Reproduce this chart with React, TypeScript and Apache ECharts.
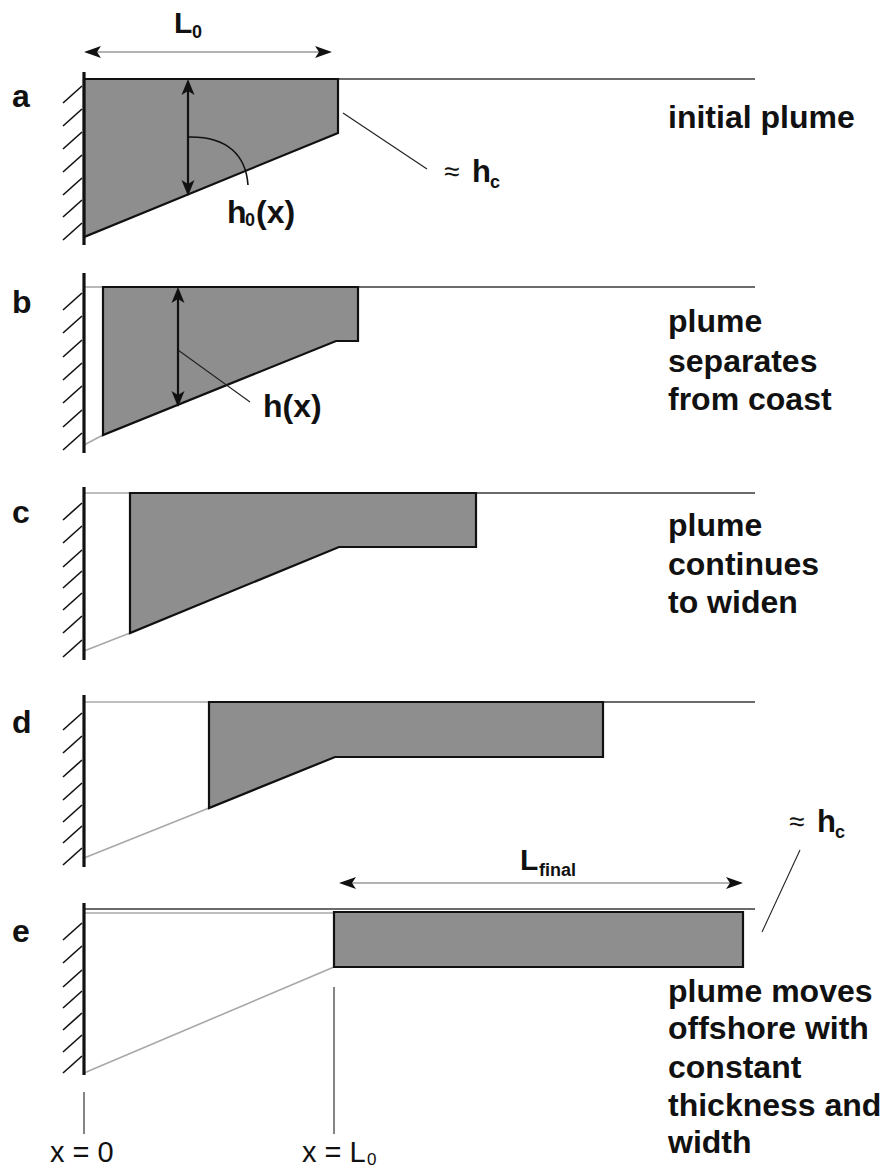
import React, { useEffect, useRef } from 'react';
import * as echarts from 'echarts';

const W = 892;
const H = 1171;
const FONT = '"Liberation Sans", Arial, Helvetica, sans-serif';

// ---- geometry (canvas units: x right, y down) ----
const wallX = 84;
const surfaceEndX = 755;
const panelLabels = ['a', 'b', 'c', 'd', 'e'];
const panelLabelBaseline = [107, 313, 523, 733, 942];
const surfaceY = [79, 287, 493, 702, 909];
const wallTopY = [72, 273, 487, 695, 903];
const wallBottomY = [245, 453, 660, 867, 1075];
const hatchLowerY = [
  [103, 126, 149, 172, 195, 217, 240],
  [310, 333, 357, 380, 403, 427, 450],
  [520, 543, 567, 588, 610, 633, 657],
  [730, 753, 777, 800, 822, 843, 865],
  [940, 963, 987, 1008, 1030, 1052, 1073],
];
const plumeOutlines = [
  [[84, 79], [338, 79], [338, 133], [84, 237]],
  [[103, 287], [358, 287], [358, 341], [336, 341], [103, 435]],
  [[130, 493], [476, 493], [476, 547], [339, 547], [130, 633]],
  [[209, 702], [603, 702], [603, 757], [335, 757], [209, 808]],
  [[334, 912], [743, 912], [743, 967], [334, 967]],
];
// where the dark surface line starts in each panel
const surfaceStartX = [338, 358, 476, 603, 84];
// faint lines: former coast-attached surface and bed of the initial plume
const faintLines = [
  [[84, 287], [103, 287]],
  [[84, 445], [103, 435]],
  [[84, 493], [130, 493]],
  [[84, 651], [130, 633]],
  [[84, 702], [209, 702]],
  [[84, 858], [209, 808]],
  [[84, 913], [334, 913]],
  [[84, 1073], [334, 967]],
];
// thin leader lines
const leaderLines = [
  [[343, 113], [427, 169]],
  [[178, 350], [250, 402]],
  [[800, 850], [762, 932]],
  [[84, 1092], [84, 1134]],
  [[334, 987], [334, 1134]],
];
// curved leader for h0(x): start, cp1, cp2, end
const curvedLeader = [[188, 137], [228, 136], [246, 156], [248, 185]];
// vertical thickness arrows: x, top, bottom
const thicknessArrows = [
  [188, 79, 196],
  [178, 287, 407],
];
// horizontal extent arrows: x0, x1, y
const extentArrows = [
  [84, 332, 52],
  [339, 743, 883],
];

const captions = [
  ['initial plume'],
  ['plume', 'separates', 'from coast'],
  ['plume', 'continues', 'to widen'],
  [],
  ['plume moves', 'offshore with', 'constant', 'thickness and', 'width'],
];
const captionBaselines = [
  [128],
  [332, 372, 410],
  [536, 575, 613],
  [],
  [1002, 1039, 1078, 1116, 1153],
];
const captionX = 668;

function txt(text: string, x: number, baseline: number, size: number, weight: string = 'bold') {
  return {
    type: 'text',
    x,
    y: baseline - 0.35 * size,
    silent: true,
    style: {
      text,
      fontSize: size,
      fontWeight: weight,
      fontFamily: FONT,
      fill: '#111',
      align: 'left',
      textAlign: 'left',
      verticalAlign: 'middle',
      textVerticalAlign: 'middle',
    },
  };
}

export default function App() {
  const ref = useRef<HTMLDivElement>(null);

  useEffect(() => {
    document.body.style.margin = '0';
    const chart = echarts.init(ref.current!, null, { renderer: 'svg' });

    const graphicTexts: any[] = [];
    panelLabels.forEach((l, i) => graphicTexts.push(txt(l, 12, panelLabelBaseline[i], 32)));
    captions.forEach((lines, i) =>
      lines.forEach((line, j) => graphicTexts.push(txt(line, captionX, captionBaselines[i][j], 32)))
    );
    // L0
    graphicTexts.push(txt('L', 174, 33, 30));
    graphicTexts.push(txt('0', 192, 38, 18));
    // h0(x)
    graphicTexts.push(txt('h', 227, 223, 32));
    graphicTexts.push(txt('0', 245, 226, 18));
    graphicTexts.push(txt('(x)', 256, 223, 32));
    // h(x)
    graphicTexts.push(txt('h(x)', 263, 417, 32));
    // ≈ hc (a)
    graphicTexts.push(txt('≈', 444, 181, 28, 'normal'));
    graphicTexts.push(txt('h', 472, 182, 31));
    graphicTexts.push(txt('c', 490, 188, 18));
    // ≈ hc (d/e)
    graphicTexts.push(txt('≈', 789, 831, 28, 'normal'));
    graphicTexts.push(txt('h', 817, 832, 31));
    graphicTexts.push(txt('c', 835, 838, 18));
    // L final
    graphicTexts.push(txt('L', 520, 870, 30));
    graphicTexts.push(txt('final', 539, 876, 18));
    // x = 0, x = L0
    graphicTexts.push(txt('x = 0', 50, 1162, 29, 'normal'));
    graphicTexts.push(txt('x = L', 302, 1162, 29, 'normal'));
    graphicTexts.push(txt('0', 367, 1165, 17, 'normal'));

    const seg = (api: any, a: number[], b: number[], stroke: string, lw: number) => {
      const p = api.coord(a);
      const q = api.coord(b);
      return { type: 'line', shape: { x1: p[0], y1: p[1], x2: q[0], y2: q[1] }, style: { stroke, lineWidth: lw } };
    };

    const option: any = {
      animation: false,
      grid: { left: 0, right: 0, top: 0, bottom: 0 },
      xAxis: { type: 'value', min: 0, max: W, show: false },
      yAxis: { type: 'value', min: 0, max: H, inverse: true, show: false },
      graphic: graphicTexts,
      series: [
        {
          name: 'surface',
          type: 'custom',
          data: surfaceY.map((_, i) => [i]),
          renderItem: (params: any, api: any) => {
            const i = params.dataIndex;
            return seg(api, [surfaceStartX[i], surfaceY[i]], [surfaceEndX, surfaceY[i]], '#3a3a3a', 1.3);
          },
        },
        {
          name: 'faint',
          type: 'custom',
          data: faintLines.map((_, i) => [i]),
          renderItem: (params: any, api: any) => {
            const l = faintLines[params.dataIndex];
            return seg(api, l[0], l[1], '#a8a8a8', 1.6);
          },
        },
        {
          name: 'plume',
          type: 'custom',
          data: plumeOutlines.map((_, i) => [i]),
          renderItem: (params: any, api: any) => {
            const pts = plumeOutlines[params.dataIndex].map((p) => api.coord(p));
            return {
              type: 'polygon',
              shape: { points: pts },
              style: { fill: '#8e8e8e', stroke: '#111', lineWidth: 2.2, lineJoin: 'miter' },
            };
          },
        },
        {
          name: 'wall',
          type: 'custom',
          data: wallTopY.map((_, i) => [i]),
          renderItem: (params: any, api: any) => {
            const i = params.dataIndex;
            const children: any[] = [seg(api, [wallX, wallTopY[i]], [wallX, wallBottomY[i]], '#111', 3.2)];
            hatchLowerY[i].forEach((y) => {
              children.push(seg(api, [wallX - 21, y], [wallX - 2, y - 17], '#111', 1.6));
            });
            return { type: 'group', children };
          },
        },
        {
          name: 'leaders',
          type: 'custom',
          data: leaderLines.map((_, i) => [i]),
          renderItem: (params: any, api: any) => {
            const l = leaderLines[params.dataIndex];
            return seg(api, l[0], l[1], '#222', 1.1);
          },
        },
        {
          name: 'curvedLeader',
          type: 'custom',
          data: [[0]],
          renderItem: (params: any, api: any) => {
            const [s, c1, c2, e] = curvedLeader.map((p) => api.coord(p));
            return {
              type: 'bezierCurve',
              shape: { x1: s[0], y1: s[1], cpx1: c1[0], cpy1: c1[1], cpx2: c2[0], cpy2: c2[1], x2: e[0], y2: e[1] },
              style: { stroke: '#111', lineWidth: 1.6, fill: 'none' },
            };
          },
        },
        {
          name: 'thickness',
          type: 'custom',
          data: thicknessArrows.map((_, i) => [i]),
          renderItem: (params: any, api: any) => {
            const [x, y0, y1] = thicknessArrows[params.dataIndex];
            const t = api.coord([x, y0]);
            const b = api.coord([x, y1]);
            const hl = 16, hw = 6.5;
            return {
              type: 'group',
              children: [
                { type: 'line', shape: { x1: t[0], y1: t[1] + 6, x2: b[0], y2: b[1] - 6 }, style: { stroke: '#111', lineWidth: 2.2 } },
                { type: 'polygon', shape: { points: [[t[0], t[1]], [t[0] - hw, t[1] + hl], [t[0], t[1] + hl - 4], [t[0] + hw, t[1] + hl]] }, style: { fill: '#111' } },
                { type: 'polygon', shape: { points: [[b[0], b[1]], [b[0] - hw, b[1] - hl], [b[0], b[1] - hl + 4], [b[0] + hw, b[1] - hl]] }, style: { fill: '#111' } },
              ],
            };
          },
        },
        {
          name: 'extent',
          type: 'custom',
          data: extentArrows.map((_, i) => [i]),
          renderItem: (params: any, api: any) => {
            const [x0, x1, y] = extentArrows[params.dataIndex];
            const l = api.coord([x0, y]);
            const r = api.coord([x1, y]);
            const hl = 17, hw = 6;
            return {
              type: 'group',
              children: [
                { type: 'line', shape: { x1: l[0] + 8, y1: l[1], x2: r[0] - 8, y2: r[1] }, style: { stroke: '#9a9a9a', lineWidth: 1.4 } },
                { type: 'polygon', shape: { points: [[l[0], l[1]], [l[0] + hl, l[1] - hw], [l[0] + hl - 4, l[1]], [l[0] + hl, l[1] + hw]] }, style: { fill: '#111' } },
                { type: 'polygon', shape: { points: [[r[0], r[1]], [r[0] - hl, r[1] - hw], [r[0] - hl + 4, r[1]], [r[0] - hl, r[1] + hw]] }, style: { fill: '#111' } },
              ],
            };
          },
        },
      ],
    };

    chart.setOption(option);
    return () => chart.dispose();
  }, []);

  return <div ref={ref} style={{ width: W, height: H, background: '#fff' }} />;
}
